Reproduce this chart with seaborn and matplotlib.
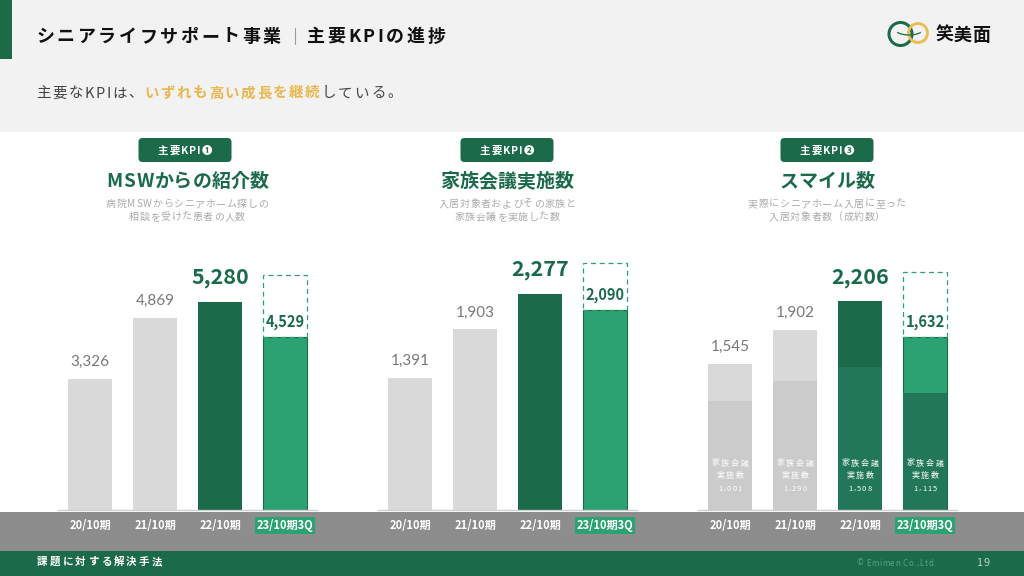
"""
Senior life support KPI slide, three bar panels with a drawn slide frame.
"""
import unicodedata

import matplotlib
matplotlib.use("Agg")
import matplotlib.pyplot as plt
import pandas as pd
import seaborn as sns
from matplotlib.patches import Arc, Circle, FancyBboxPatch, Rectangle

# --- DATA --------------------------------------------------------------------
periods = ["20/10期", "21/10期", "22/10期", "23/10期3Q"]

# printed values
kpi1_labels = ["3,326", "4,869", "5,280", "4,529"]
kpi2_labels = ["1,391", "1,903", "2,277", "2,090"]
kpi3_labels = ["1,545", "1,902", "2,206", "1,632"]
kpi3_inner_labels = ["1,001", "1,290", "1,508", "1,115"]

# bar heights as drawn in the slide (the 3Q bars are not to scale with the label)
kpi1_heights = [3326, 4869, 5280, 4390]
kpi2_heights = [1391, 1903, 2277, 2108]
kpi3_heights = [1545, 1902, 2206, 1827]
kpi3_inner_heights = [1150, 1362, 1508, 1235]

# dashed full year outline on the 3Q bar
kpi1_outline = 5960
kpi2_outline = 2603
kpi3_outline = 2513

badges = ["主要KPI❶", "主要KPI❷", "主要KPI❸"]
headings = ["MSWからの紹介数", "家族会議実施数", "スマイル数"]
notes = [
    ["病院MSWからシニアホーム探しの", "相談を受けた患者の人数"],
    ["入居対象者およびその家族と", "家族会議を実施した数"],
    ["実際にシニアホーム入居に至った", "入居対象者数（成約数）"],
]

# --- STYLE -------------------------------------------------------------------
GREEN = "#1b6b4b"
LIGHT_GREEN = "#2ba272"
INNER_GREEN = "#217758"
GREY = "#d9d9d9"
INNER_GREY = "#cbcbcb"
FONT = ["Noto Sans CJK JP", "DejaVu Sans"]

sns.set_theme(style="white")
plt.rcParams["font.family"] = FONT

W, H = 1024, 576
BASE_Y = 510
PX_PER_UNIT = [0.0394, 0.0949, 0.0947]
PANEL_LEFT = [58, 378, 698]
PANEL_W = 259
PANEL_TOP = 240

fig = plt.figure(figsize=(W / 100, H / 100), dpi=100, facecolor="white")
bg = fig.add_axes([0, 0, 1, 1], zorder=0)
bg.set_xlim(0, W)
bg.set_ylim(H, 0)
bg.axis("off")
top = fig.add_axes([0, 0, 1, 1], zorder=5)
top.set_xlim(0, W)
top.set_ylim(H, 0)
top.axis("off")
renderer = fig.canvas.get_renderer()


def advance(ch, px, track, weight):
    if unicodedata.east_asian_width(ch) in "WF":
        return px + track
    if ch == " ":
        return px * 0.3
    t = bg.text(0, 0, ch, fontsize=px * 0.72, weight=weight)
    w = t.get_window_extent(renderer).width
    t.remove()
    # latin letters get less tracking than the kana around them
    return w + px * 0.06 + track * 0.4


def spaced(x, y, s, px, color, track=0.0, weight="normal", center=False):
    # matplotlib has no letter spacing, so the characters go one at a time
    widths = [advance(c, px, track, weight) for c in s]
    if center:
        x = x - sum(widths) / 2
    for c, w in zip(s, widths):
        # centred in its cell, ha="left" would align on the glyph ink
        top.text(x + w / 2, y, c, fontsize=px * 0.72, color=color, weight=weight,
                 ha="center", va="center_baseline", zorder=8)
        x += w
    return x


# --- SLIDE FRAME -------------------------------------------------------------
bg.add_patch(Rectangle((0, 0), W, 132, color="#f2f2f2", lw=0))
bg.add_patch(Rectangle((0, 0), 12, 59, color=GREEN, lw=0))
bg.add_patch(Rectangle((0, 512), W, 39, color="#8d8d8d", lw=0))
bg.add_patch(Rectangle((0, 551), W, 25, color=GREEN, lw=0))

spaced(35, 35, "シニアライフサポート事業", 18, "#111111", 2.6, "bold")
bg.plot([295, 295], [28, 44], color="#999999", lw=0.8)
spaced(305, 35, "主要KPIの進捗", 18, "#111111", 3.0, "bold")

x = spaced(35, 92, "主要なKPIは、", 14.5, "#444444", 1.7)
x = spaced(x, 92, "いずれも高い成長を継続", 14.5, "#e8b84f", 1.6, "bold")
spaced(x, 92, "している。", 14.5, "#444444", 2.0)

# logo
bg.add_patch(Circle((900.5, 34), 11.5, fill=False, ec=GREEN, lw=2.2))
bg.add_patch(Circle((918, 33), 9.5, fill=False, ec="#e9bd4e", lw=2.0))
bg.add_patch(Arc((909, 28), 30, 14, theta1=20, theta2=160, ec=GREEN, lw=0.9))
spaced(935, 34, "笑美面", 18, "#111111", 0.3, "bold")

spaced(36, 561, "課題に対する解決手法", 10.5, "white", 2.2, "bold")
spaced(856, 562, "© Emimen Co.,Ltd.", 8, "#5f9f84", 0.3)
spaced(976, 562, "19", 11, "#b7d3c5", 0.6)

for i, cx in enumerate([185, 507, 827]):
    bg.add_patch(FancyBboxPatch((cx - 46.5, 138), 93, 24,
                                boxstyle="round,pad=0,rounding_size=4",
                                fc=GREEN, ec="none", lw=0, zorder=3))
    spaced(cx, 150, badges[i], 10.5, "white", 0.9, "bold", center=True)
    spaced(cx + 2 if i == 0 else cx, 179.5, headings[i], 19, GREEN, 0.0, "bold", center=True)
    spaced(cx + 2 if i == 0 else cx, 203, notes[i][0], 10, "#aaaaaa", 0.6, center=True)
    spaced(cx + 2 if i == 0 else cx, 216, notes[i][1], 10, "#aaaaaa", 0.6, center=True)


# --- PANELS ------------------------------------------------------------------
def draw_panel(idx, heights, labels, outline, inner=None, inner_labels=None):
    left = PANEL_LEFT[idx]
    ax = fig.add_axes([left / W, 1 - BASE_Y / H, PANEL_W / W, (BASE_Y - PANEL_TOP) / H],
                      zorder=2)
    ax.patch.set_alpha(0)

    df = pd.DataFrame({"period": periods, "value": heights})
    sns.barplot(data=df, x="period", y="value", hue="period", legend=False,
                palette=[GREY, GREY, GREEN, LIGHT_GREEN], width=0.692,
                saturation=1, linewidth=0, edgecolor="none", ax=ax)
    ax.patches[3].set_edgecolor(GREEN)
    ax.patches[3].set_linewidth(0.8)

    if inner is not None:
        df_in = pd.DataFrame({"period": periods, "value": inner})
        sns.barplot(data=df_in, x="period", y="value", hue="period", legend=False,
                    palette=[INNER_GREY, INNER_GREY, INNER_GREEN, INNER_GREEN],
                    width=0.692, saturation=1, linewidth=0, edgecolor="none", ax=ax)
        for j, txt in enumerate(inner_labels):
            cx = left + 32 + j * 65
            spaced(cx, 462, "家族会議", 8, "white", 1.6, center=True)
            spaced(cx, 474, "実施数", 8, "white", 1.6, center=True)
            spaced(cx, 488, txt, 7.5, "white", 1.6, center=True)

    # dashed outline above the 3Q bar
    ax.bar([3], [outline - heights[3]], bottom=[heights[3]], width=0.692, fill=False,
           ec=LIGHT_GREEN, ls=(0, (4, 3)), lw=0.9)

    for j, txt in enumerate(labels):
        if j == 2:
            style = dict(fontsize=15.5, color=GREEN, weight="bold")
            off = 24
        elif j == 3:
            style = dict(fontsize=10.5, color=GREEN, weight="bold")
            off = 15
        else:
            style = dict(fontsize=11, color="#777777", family=["Lato", "DejaVu Sans"])
            off = 17
        ax.annotate(txt, xy=(j, heights[j]), xytext=(0, off * 0.72), textcoords="offset points",
                    ha="center", va="center", **style)

    ax.set_xlim(-32 / 65, 227 / 65)
    ax.set_ylim(0, (BASE_Y - PANEL_TOP) / PX_PER_UNIT[idx])
    ax.set_xlabel("")
    ax.set_ylabel("")
    ax.set_yticks([])
    for side in ["top", "left", "right"]:
        ax.spines[side].set_visible(False)
    ax.spines["bottom"].set_color("#d0d0d0")
    ax.spines["bottom"].set_linewidth(1)
    ax.tick_params(axis="x", length=0, pad=6.5, labelsize=8, labelcolor="white")
    for lab in ax.get_xticklabels():
        lab.set_fontweight("bold")
    last = ax.get_xticklabels()[3]
    last.set_bbox(dict(fc=LIGHT_GREEN, ec="none", pad=1.3))
    return ax


draw_panel(0, kpi1_heights, kpi1_labels, kpi1_outline)
draw_panel(1, kpi2_heights, kpi2_labels, kpi2_outline)
draw_panel(2, kpi3_heights, kpi3_labels, kpi3_outline, kpi3_inner_heights, kpi3_inner_labels)

fig.savefig("out.png", dpi=100)
